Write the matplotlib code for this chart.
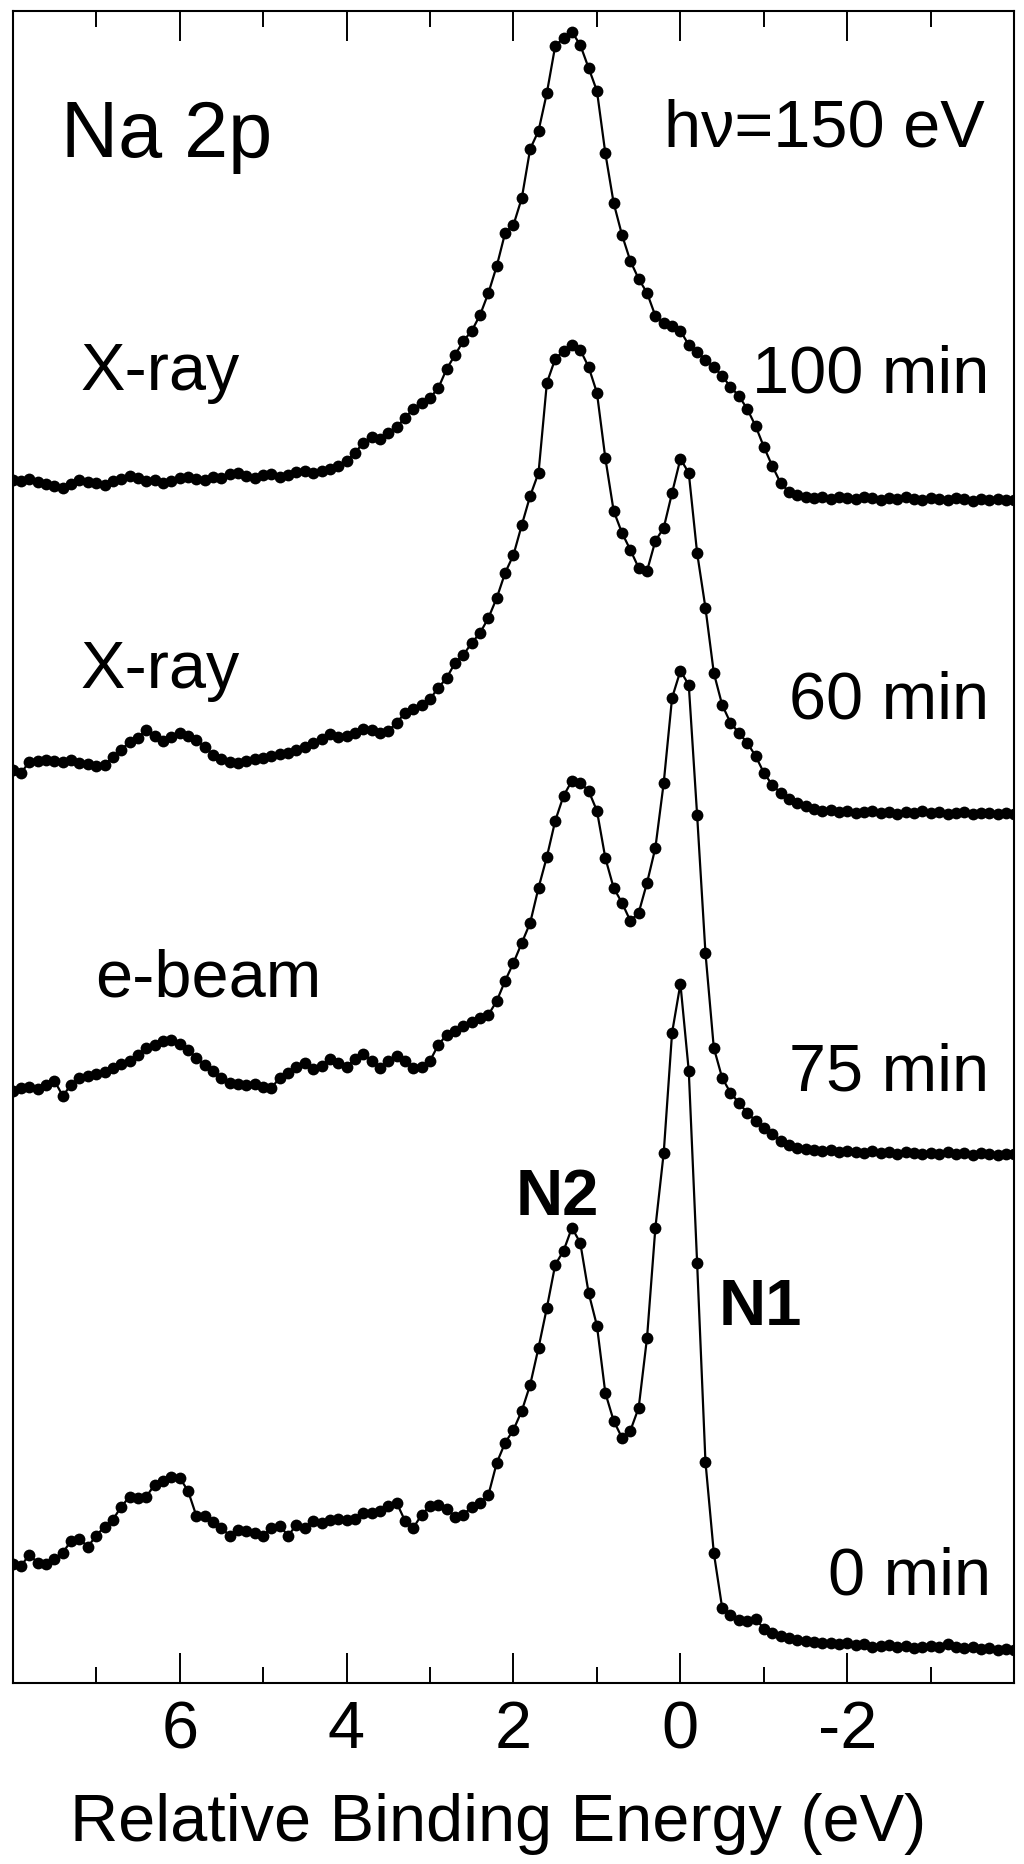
import numpy as np
import matplotlib
matplotlib.use("Agg")
import matplotlib.pyplot as plt
from matplotlib.ticker import FixedLocator

plt.rcParams.update({
    'font.family': ['Liberation Sans', 'DejaVu Sans'],
    'axes.unicode_minus': False,
})

# relative binding energy grid (eV), 8.0 down to -4.0
ENERGY = np.round(np.arange(8.0, -4.05, -0.1), 1)

# stacked Na 2p spectra (arb. units, already offset as plotted)
I_0MIN = [
    1.19, 1.17, 1.28, 1.20, 1.19, 1.24, 1.30, 1.42, 1.44, 1.36,
    1.47, 1.56, 1.63, 1.76, 1.86, 1.85, 1.86, 1.98, 2.02, 2.06,
    2.05, 1.92, 1.67, 1.67, 1.61, 1.55, 1.47, 1.53, 1.52, 1.50,
    1.47, 1.55, 1.57, 1.47, 1.58, 1.55, 1.62, 1.60, 1.63, 1.64,
    1.63, 1.64, 1.70, 1.70, 1.72, 1.77, 1.80, 1.62, 1.55, 1.68,
    1.77, 1.78, 1.74, 1.66, 1.68, 1.76, 1.80, 1.88, 2.20, 2.40,
    2.53, 2.72, 2.98, 3.35, 3.75, 4.18, 4.32, 4.55, 4.40, 3.90,
    3.57, 2.90, 2.62, 2.45, 2.52, 2.75, 3.45, 4.55, 5.30, 6.50,
    6.99, 6.12, 4.20, 2.21, 1.30, 0.75, 0.68, 0.63, 0.62, 0.64,
    0.54, 0.50, 0.47, 0.45, 0.43, 0.42, 0.41, 0.40, 0.40, 0.39,
    0.40, 0.38, 0.39, 0.36, 0.37, 0.38, 0.36, 0.37, 0.35, 0.36,
    0.37, 0.36, 0.39, 0.36, 0.35, 0.36, 0.34, 0.35, 0.33, 0.34,
    0.33,
]
I_75MIN = [
    5.92, 5.95, 5.96, 5.94, 5.98, 6.02, 5.87, 5.98, 6.05, 6.07,
    6.09, 6.11, 6.15, 6.19, 6.22, 6.28, 6.35, 6.38, 6.42, 6.43,
    6.39, 6.33, 6.25, 6.18, 6.12, 6.05, 6.00, 5.99, 5.98, 5.99,
    5.96, 5.95, 6.05, 6.10, 6.16, 6.20, 6.14, 6.17, 6.24, 6.20,
    6.16, 6.24, 6.29, 6.22, 6.15, 6.22, 6.27, 6.22, 6.15, 6.16,
    6.22, 6.38, 6.48, 6.52, 6.57, 6.61, 6.65, 6.68, 6.82, 7.02,
    7.20, 7.40, 7.60, 7.95, 8.26, 8.62, 8.87, 9.02, 9.00, 8.92,
    8.72, 8.25, 7.95, 7.80, 7.62, 7.70, 8.00, 8.35, 9.00, 9.85,
    10.12, 9.98, 8.68, 7.30, 6.35, 6.05, 5.90, 5.80, 5.70, 5.62,
    5.55, 5.49, 5.42, 5.38, 5.35, 5.34, 5.33, 5.32, 5.33, 5.31,
    5.32, 5.31, 5.30, 5.32, 5.30, 5.31, 5.29, 5.31, 5.30, 5.29,
    5.30, 5.29, 5.31, 5.29, 5.30, 5.28, 5.30, 5.29, 5.28, 5.29,
    5.29,
]
I_60MIN = [
    9.13, 9.10, 9.21, 9.22, 9.23, 9.22, 9.21, 9.23, 9.20, 9.19,
    9.17, 9.18, 9.26, 9.33, 9.41, 9.45, 9.53, 9.47, 9.42, 9.46,
    9.50, 9.47, 9.43, 9.36, 9.28, 9.24, 9.21, 9.20, 9.22, 9.24,
    9.25, 9.27, 9.29, 9.30, 9.33, 9.36, 9.40, 9.44, 9.49, 9.46,
    9.47, 9.50, 9.54, 9.53, 9.50, 9.52, 9.60, 9.70, 9.74, 9.78,
    9.84, 9.95, 10.05, 10.20, 10.28, 10.40, 10.50, 10.65, 10.85, 11.10,
    11.28, 11.58, 11.87, 12.10, 13.00, 13.24, 13.32, 13.38, 13.33, 13.16,
    12.90, 12.25, 11.72, 11.50, 11.33, 11.15, 11.12, 11.42, 11.55, 11.90,
    12.24, 12.10, 11.30, 10.75, 10.10, 9.78, 9.60, 9.50, 9.40, 9.27,
    9.10, 8.98, 8.90, 8.84, 8.80, 8.77, 8.74, 8.72, 8.73, 8.71,
    8.72, 8.70, 8.71, 8.72, 8.70, 8.71, 8.69, 8.71, 8.70, 8.72,
    8.70, 8.71, 8.69, 8.70, 8.71, 8.69, 8.70, 8.70, 8.69, 8.70,
    8.69,
]
I_100MIN = [
    12.03, 12.02, 12.04, 12.01, 11.99, 11.97, 11.95, 11.99, 12.03, 12.01,
    12.00, 11.98, 12.02, 12.04, 12.07, 12.05, 12.02, 12.03, 12.00, 12.02,
    12.05, 12.06, 12.04, 12.03, 12.06, 12.05, 12.09, 12.10, 12.07, 12.05,
    12.08, 12.09, 12.06, 12.08, 12.11, 12.12, 12.10, 12.12, 12.14, 12.17,
    12.22, 12.30, 12.40, 12.46, 12.44, 12.50, 12.56, 12.65, 12.74, 12.80,
    12.85, 12.95, 13.14, 13.28, 13.42, 13.52, 13.68, 13.90, 14.17, 14.50,
    14.58, 14.85, 15.34, 15.52, 15.90, 16.37, 16.45, 16.51, 16.38, 16.15,
    15.92, 15.30, 14.80, 14.48, 14.22, 14.04, 13.90, 13.67, 13.60, 13.57,
    13.52, 13.38, 13.31, 13.23, 13.16, 13.07, 12.96, 12.87, 12.74, 12.57,
    12.36, 12.17, 12.00, 11.91, 11.88, 11.86, 11.85, 11.86, 11.84, 11.86,
    11.85, 11.84, 11.86, 11.85, 11.83, 11.85, 11.84, 11.86, 11.84, 11.83,
    11.85, 11.84, 11.83, 11.85, 11.84, 11.82, 11.84, 11.83, 11.84, 11.83,
    11.83,
]
SPECTRA = [I_0MIN, I_75MIN, I_60MIN, I_100MIN]

MAJOR_TICKS = [6, 4, 2, 0, -2]
MINOR_TICKS = [7, 5, 3, 1, -1, -3]

fig = plt.figure(figsize=(10.24, 18.65), dpi=100)
ax = fig.add_axes([0.0124, 0.0972, 0.9781, 0.8964])

for spec in SPECTRA:
    ax.plot(ENERGY, spec, '-', color='black', lw=1.6,
            marker='o', ms=8.5, mew=0, mfc='black')

ax.set_xlim(8, -4)
ax.set_ylim(0, 16.72)
ax.set_yticks([])

ax.xaxis.set_major_locator(FixedLocator(MAJOR_TICKS))
ax.xaxis.set_minor_locator(FixedLocator(MINOR_TICKS))
ax.tick_params(axis='x', which='both', direction='in', top=True,
               labelsize=48, pad=12, width=1.4, color='black')
ax.tick_params(axis='x', which='major', length=21.6)
ax.tick_params(axis='x', which='minor', length=11.5)
for sp in ax.spines.values():
    sp.set_linewidth(1.5)

ax.set_xlabel('Relative Binding Energy (eV)', fontsize=48)
ax.xaxis.label.set_va('baseline')
ax.xaxis.set_label_coords(0.485, -0.0941)

# annotations (energy, intensity) with baseline alignment
ax.text(7.42, 15.27, 'Na 2p', fontsize=57, ha='left', va='baseline')
ax.text(-3.65, 15.37, 'h\u03bd=150 eV', fontsize=48, ha='right', va='baseline')
ax.text(7.19, 12.94, 'X-ray', fontsize=48, ha='left', va='baseline')
ax.text(-3.70, 12.91, '100 min', fontsize=48, ha='right', va='baseline')
ax.text(7.19, 9.96, 'X-ray', fontsize=48, ha='left', va='baseline')
ax.text(-3.70, 9.65, '60 min', fontsize=48, ha='right', va='baseline')
ax.text(7.01, 6.87, 'e-beam', fontsize=48, ha='left', va='baseline')
ax.text(-3.70, 5.93, '75 min', fontsize=48, ha='right', va='baseline')
ax.text(-3.72, 0.89, '0 min', fontsize=48, ha='right', va='baseline')
ax.text(1.98, 4.69, 'N2', fontsize=47, fontweight='bold', ha='left', va='baseline')
ax.text(-0.46, 3.59, 'N1', fontsize=47, fontweight='bold', ha='left', va='baseline')

fig.savefig('out.png', dpi=100)
